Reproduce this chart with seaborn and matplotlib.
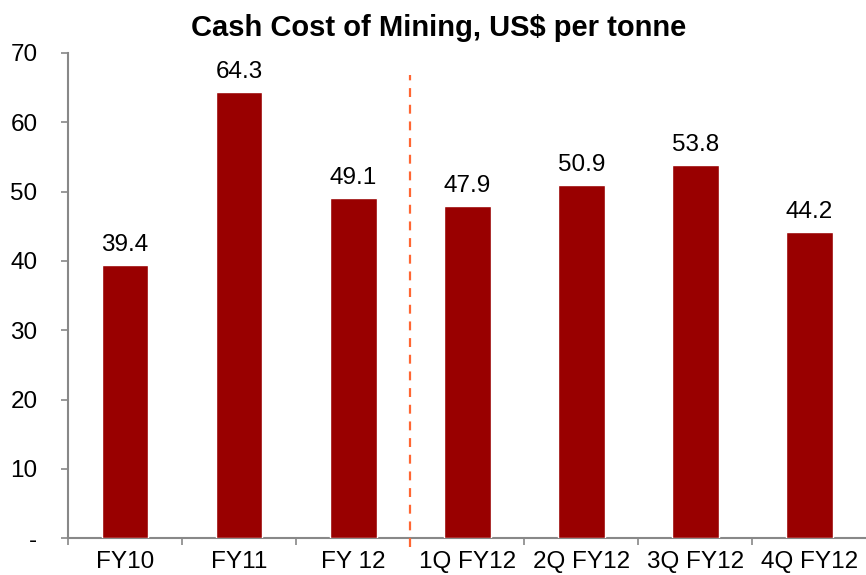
import matplotlib
matplotlib.use("Agg")
import matplotlib.pyplot as plt
import seaborn as sns
import pandas as pd

categories = ["FY10", "FY11", "FY 12", "1Q FY12", "2Q FY12", "3Q FY12", "4Q FY12"]
values = [39.4, 64.3, 49.1, 47.9, 50.9, 53.8, 44.2]
yticks = [0, 10, 20, 30, 40, 50, 60, 70]
ytick_labels = ["-", "10", "20", "30", "40", "50", "60", "70"]
title = "Cash Cost of Mining, US$ per tonne"

sns.set_theme(style="white")
plt.rcParams["font.family"] = ["Liberation Sans", "DejaVu Sans"]
plt.rcParams["text.color"] = "black"
plt.rcParams["xtick.labelcolor"] = "black"
plt.rcParams["ytick.labelcolor"] = "black"

df = pd.DataFrame({"cat": categories, "val": values})

fig = plt.figure(figsize=(8.66, 5.75), dpi=100)
ax = fig.add_axes([0.0785, 0.064, 0.922, 0.844])
sns.barplot(data=df, x="cat", y="val", color="#990000", width=0.41,
            saturation=1, ax=ax, zorder=3)

for i, v in enumerate(values):
    ax.text(i, v + 1.3, f"{v:.1f}", ha="center", va="bottom", fontsize=17.5, color="black")

ax.set_ylim(0, 70)
ax.set_xlim(-0.5, len(categories) - 0.5)
ax.set_yticks(yticks)
ax.set_yticklabels(ytick_labels, fontsize=17.5, color="black")
ax.set_xticks(range(len(categories)))
ax.set_xticklabels(categories, fontsize=17.5, color="black")
ax.tick_params(axis="x", length=0, pad=9)
ax.tick_params(axis="y", length=5, width=1.2, color="#888888", direction="out", pad=17, left=True)
# minor ticks at category boundaries
ax.set_xticks([i + 0.5 for i in range(-1, len(categories) - 1)], minor=True)
ax.tick_params(axis="x", which="minor", length=5, width=1.2, color="#888888", direction="out", bottom=True)
ax.set_xlabel("")
ax.set_ylabel("")
for s in ["top", "right"]:
    ax.spines[s].set_visible(False)
for s in ["left", "bottom"]:
    ax.spines[s].set_color("#888888")
    ax.spines[s].set_linewidth(1.5)

ax.plot([2.5, 2.5], [-1.2, 66.8], linestyle=(0, (4, 3.5)), color="#FF6633",
        linewidth=1.6, clip_on=False, zorder=4)

fig.text(0.506, 0.951, title, ha="center", va="center", fontsize=21,
         fontweight="bold", color="black")

fig.savefig("out.png", dpi=100)
